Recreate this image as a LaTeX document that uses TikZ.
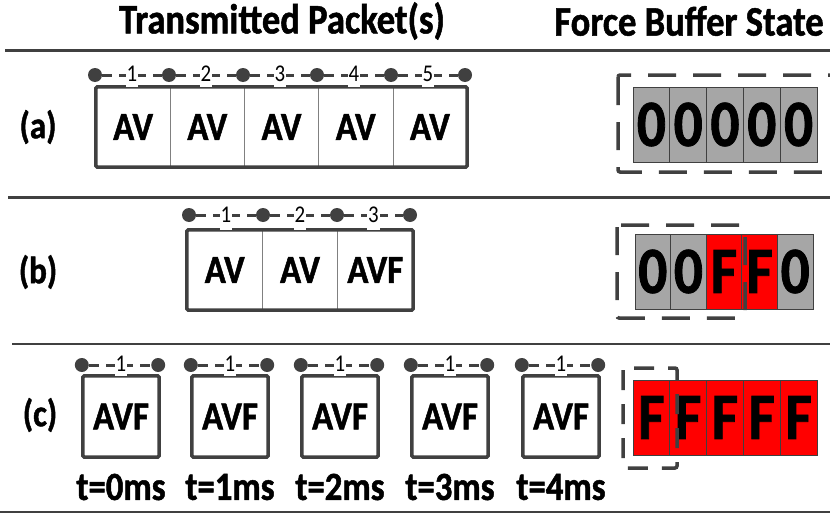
\documentclass[tikz,border=0pt]{standalone}
\usepackage{fontspec}
\setmainfont{Carlito}[FakeStretch=0.87, BoldFeatures={FakeBold=1.2}]
\definecolor{dg}{HTML}{404040}
\definecolor{cellgray}{HTML}{A6A6A6}
\definecolor{lg}{HTML}{808080}
\definecolor{fred}{HTML}{FF0000}
\tikzset{
  sepline/.style={draw=dg, line width=3pt},
  thinsep/.style={draw=dg, line width=2pt},
  pkt/.style={draw=dg, line width=3.5pt, rounded corners=1.5pt},
  divider/.style={draw=lg, line width=1pt},
  seqdot/.style={circle, fill=dg, inner sep=0pt, minimum size=14pt},
  seqline/.style={draw=dg, line width=3pt, dash pattern=on 10pt off 7pt},
  seqnum/.style={fill=white, inner sep=1pt, font=\fontsize{24}{24}\selectfont, text height=15pt, text depth=#1, anchor=south},
  paycell/.style={inner sep=0pt, font=\bfseries\fontsize{40}{40}\selectfont},
  bufcell/.style={draw=dg, line width=0.8pt, minimum width=36.8pt, minimum height=75pt, inner sep=0pt, font=\bfseries\fontsize{66}{66}\selectfont},
  bufdash/.style={draw=dg, line width=3.5pt, dash pattern=on 28pt off 17pt, rounded corners=2pt},
  rowlabel/.style={font=\bfseries\fontsize{38}{38}\selectfont},
  header/.style={font=\bfseries\fontsize{42}{42}\selectfont},
  tlabel/.style={font=\bfseries\fontsize{40}{40}\selectfont},
}
\begin{document}
\begin{tikzpicture}[x=1pt,y=-1pt]
\useasboundingbox (0,0) rectangle (830,514);
\clip (0,0) rectangle (830,514);
% headers
\node[header] (h1) at (282,21) {Transmitted Packet(s)};
\node[header] (h2) at (689,21) {Force Buffer State};
\coordinate (s1l) at (5,50); \coordinate (s1r) at (830,50);
\coordinate (s2l) at (8,197); \coordinate (s2r) at (830,197);
\coordinate (s3l) at (12,344); \coordinate (s3r) at (830,344);
\coordinate (s4l) at (0,512); \coordinate (s4r) at (830,512);
\draw[sepline] (s1l) -- (s1r);
\draw[sepline] (s2l) -- (s2r);
\draw[thinsep] (s3l) -- (s3r);
\draw[thinsep] (s4l) -- (s4r);
% row labels
\node[rowlabel] (la) at (38,127) {(a)};
\node[rowlabel] (lb) at (38,272) {(b)};
\node[rowlabel] (lc) at (40,415) {(c)};

% ---------- row (a)
\foreach \i/\x in {1/133.1,2/207.3,3/281.5,4/355.7,5/429.9}{
  \node[paycell, minimum width=74.2pt, minimum height=80pt] (a\i) at (\x,127) {AV};
}
\foreach \i in {1,2,3,4}{ \draw[divider] (a\i.north east) -- (a\i.south east); }
\draw[pkt] (a1.north west) rectangle (a5.south east);
\foreach \i/\x in {0/95,1/169,2/243,3/317,4/391,5/465}{
  \node[seqdot] (ad\i) at (\x,75) {};
}
\foreach \i [evaluate=\i as \j using int(\i-1)] in {1,...,5}{
  \draw[seqline] (ad\j) -- (ad\i);
  \path (ad\j) -- (ad\i) coordinate[midway] (am\i);
  \node[seqnum=4pt] (an\i) at (am\i |- a1.north) {\i};
}

% ---------- row (b)
\foreach \i/\x/\t in {1/224.7/AV,2/300/AV,3/375.3/AVF}{
  \node[paycell, minimum width=75.3pt, minimum height=80pt] (b\i) at (\x,270) {\t};
}
\foreach \i in {1,2}{ \draw[divider] (b\i.north east) -- (b\i.south east); }
\draw[pkt] (b1.north west) rectangle (b3.south east);
\foreach \i/\x in {0/189,1/263,2/337,3/410}{
  \node[seqdot] (bd\i) at (\x,215) {};
}
\foreach \i [evaluate=\i as \j using int(\i-1)] in {1,...,3}{
  \draw[seqline] (bd\j) -- (bd\i);
  \path (bd\j) -- (bd\i) coordinate[midway] (bm\i);
  \node[seqnum=6pt] (bn\i) at (bm\i |- b1.north) {\i};
}

% ---------- row (c)
\foreach \i/\x/\tl in {1/121/0,2/230/1,3/340/2,4/450/3,5/561/4}{
  \node[paycell, minimum width=76pt, minimum height=81pt] (c\i) at (\x,416.5) {AVF};
  \draw[pkt] (c\i.north west) rectangle (c\i.south east);
  \node[seqdot] (cdl\i) at ([xshift=-1pt]c\i.north west |- 0,365) {};
  \node[seqdot] (cdr\i) at ([xshift=-1pt]c\i.north east |- 0,365) {};
  \draw[seqline] (cdl\i) -- (cdr\i);
  \node[seqnum=3pt] (cn\i) at (c\i.north) {1};
  \node[tlabel] (t\i) at (\x,487) {t=\tl ms};
}

% ---------- buffers
% (a)
\foreach \i/\x in {1/651.4,2/688.2,3/725,4/761.8,5/798.6}{
  \node[bufcell, fill=cellgray] (ba\i) at (\x,124.5) {0};
}
\draw[bufdash] (618,75) rectangle (845,172);
% (b)
\foreach \i/\x/\c/\v in {1/652.8/cellgray/0,2/688.4/cellgray/0,3/724/fred/F,4/759.6/fred/F,5/795.2/cellgray/0}{
  \node[bufcell, fill=\c, minimum width=35.6pt] (bb\i) at (\x,271.5) {\v};
}
\draw[bufdash] (617,225) rectangle (745,318);
% (c)
\foreach \i/\x in {1/651.4,2/688.2,3/725,4/761.8,5/798.6}{
  \node[bufcell, fill=fred] (bc\i) at (\x,417.5) {F};
}
\draw[bufdash, dash pattern=on 20pt off 14pt] (623,368) rectangle (677,468);
\end{tikzpicture}
\end{document}
